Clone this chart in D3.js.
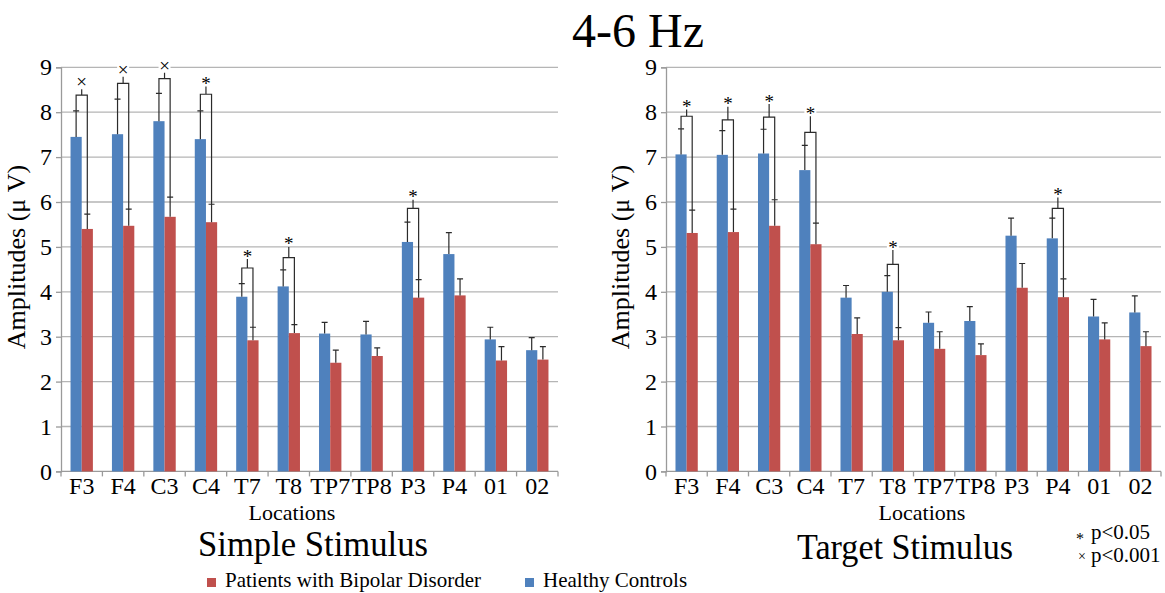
<!DOCTYPE html>
<html>
<head>
<meta charset="utf-8">
<script src="https://cdn.jsdelivr.net/npm/d3@7"></script>
<style>
  body { margin: 0; background: #fff; }
  svg { display: block; }
  text { font-family: "Liberation Serif", "Times New Roman", serif; fill: #000; }
</style>
</head>
<body>
<svg id="chart" width="1165" height="593"></svg>
<script>
// Electrode locations along the x axis
const locations = ["F3", "F4", "C3", "C4", "T7", "T8", "TP7", "TP8", "P3", "P4", "01", "02"];
const yTicks = [0, 1, 2, 3, 4, 5, 6, 7, 8, 9];

// Simple stimulus: mean amplitudes (µV) and standard deviations
const simpleControls   = [7.45, 7.51, 7.80, 7.40, 3.89, 4.12, 3.07, 3.05, 5.11, 4.84, 2.94, 2.70];
const simpleControlsSD = [0.58, 0.78, 0.62, 0.63, 0.29, 0.37, 0.25, 0.29, 0.44, 0.48, 0.27, 0.28];
const simplePatients   = [5.40, 5.47, 5.67, 5.55, 2.92, 3.08, 2.42, 2.57, 3.87, 3.92, 2.47, 2.49];
const simplePatientsSD = [0.33, 0.37, 0.44, 0.40, 0.29, 0.19, 0.28, 0.18, 0.40, 0.37, 0.31, 0.29];

// Target stimulus: mean amplitudes (µV) and standard deviations
const targetControls   = [7.06, 7.05, 7.08, 6.71, 3.87, 4.00, 3.31, 3.35, 5.25, 5.19, 3.45, 3.54];
const targetControlsSD = [0.57, 0.54, 0.54, 0.55, 0.27, 0.36, 0.24, 0.32, 0.39, 0.45, 0.38, 0.37];
const targetPatients   = [5.31, 5.33, 5.47, 5.06, 3.06, 2.92, 2.73, 2.59, 4.09, 3.88, 2.94, 2.79];
const targetPatientsSD = [0.51, 0.51, 0.58, 0.47, 0.36, 0.28, 0.38, 0.25, 0.54, 0.41, 0.37, 0.32];

// Significance brackets: [location, bracket level, stem tip level, marker]
const simpleSig = [
  ["F3", 8.38, 8.51, "×"], ["F4", 8.64, 8.79, "×"], ["C3", 8.75, 8.88, "×"],
  ["C4", 8.40, 8.57, "*"], ["T7", 4.53, 4.73, "*"], ["T8", 4.76, 5.00, "*"],
  ["P3", 5.86, 6.05, "*"]
];
const targetSig = [
  ["F3", 7.91, 8.06, "*"], ["F4", 7.83, 8.12, "*"], ["C3", 7.89, 8.18, "*"],
  ["C4", 7.55, 7.91, "*"], ["T8", 4.61, 4.93, "*"], ["P4", 5.86, 6.10, "*"]
];

const seriesNames = ["Patients with Bipolar Disorder", "Healthy Controls"];
const colControls = "#4F81BD";
const colPatients = "#C0504D";

const svg = d3.select("#chart");

// Main heading
svg.append("text")
  .attr("x", 638).attr("y", 47)
  .attr("text-anchor", "middle")
  .style("font-size", "48px")
  .text("4-6 Hz");

const y = d3.scaleLinear().domain([0, 9]).range([471.4, 67.3]);

function drawPanel(p) {
  const g = svg.append("g");
  const x = d3.scaleBand().domain(locations).range([p.left, p.right]).padding(0);
  const bw = x.bandwidth() * 0.27;
  const cx = d => x(d) + x.bandwidth() / 2;

  // horizontal gridlines
  g.append("g").selectAll("line")
    .data(yTicks.filter(t => t > 0))
    .join("line")
    .attr("x1", p.left).attr("x2", p.right)
    .attr("y1", d => y(d)).attr("y2", d => y(d))
    .attr("stroke", "#b5b5b5").attr("stroke-width", 1.3);

  // y axis
  const ya = g.append("g")
    .attr("transform", `translate(${p.left},0)`)
    .call(d3.axisLeft(y).tickValues(yTicks).tickSize(5).tickPadding(4).tickFormat(d3.format("d")));
  ya.attr("font-family", null);
  ya.select(".domain").attr("stroke", "#9a9a9a").attr("stroke-width", 1.3);
  ya.selectAll(".tick line").attr("stroke", "#9a9a9a").attr("stroke-width", 1.3);
  ya.selectAll(".tick text")
    .style("font-family", '"Liberation Serif", serif').style("font-size", "24px").attr("fill", "#000");

  // x axis with tick marks at band boundaries
  const xa = g.append("g")
    .attr("transform", `translate(0,${y(0)})`)
    .call(d3.axisBottom(x).tickSize(0).tickPadding(6));
  xa.attr("font-family", null);
  xa.select(".domain").remove();
  xa.selectAll(".tick text")
    .style("font-family", '"Liberation Serif", serif').style("font-size", "24px").attr("fill", "#000");
  g.append("line")
    .attr("x1", p.left).attr("x2", p.right).attr("y1", y(0)).attr("y2", y(0))
    .attr("stroke", "#9a9a9a").attr("stroke-width", 1.3);
  g.append("g").selectAll("line")
    .data(d3.range(locations.length + 1))
    .join("line")
    .attr("x1", i => p.left + i * x.step()).attr("x2", i => p.left + i * x.step())
    .attr("y1", y(0)).attr("y2", y(0) + 5)
    .attr("stroke", "#9a9a9a").attr("stroke-width", 1.3);

  // bars: healthy controls (left), patients (right)
  const rows = locations.map((loc, i) => ({
    loc, c: p.controls[i], cs: p.controlsSD[i], p: p.patients[i], ps: p.patientsSD[i]
  }));
  g.append("g").selectAll("rect")
    .data(rows).join("rect")
    .attr("x", d => cx(d.loc) - bw).attr("width", bw)
    .attr("y", d => y(d.c)).attr("height", d => y(0) - y(d.c))
    .attr("fill", colControls);
  g.append("g").selectAll("rect")
    .data(rows).join("rect")
    .attr("x", d => cx(d.loc)).attr("width", bw)
    .attr("y", d => y(d.p)).attr("height", d => y(0) - y(d.p))
    .attr("fill", colPatients);

  // error bars
  const err = [];
  rows.forEach(d => {
    err.push({ x: cx(d.loc) - bw / 2, v: d.c, s: d.cs });
    err.push({ x: cx(d.loc) + bw / 2, v: d.p, s: d.ps });
  });
  const eg = g.append("g").attr("stroke", "#2b2b2b").attr("stroke-width", 1.2).attr("fill", "none");
  eg.selectAll("path").data(err).join("path")
    .attr("d", e => `M${e.x},${y(e.v)}V${y(e.v + e.s)}M${e.x - 3},${y(e.v + e.s)}H${e.x + 3}`);

  // significance brackets
  const byLoc = new Map(rows.map(d => [d.loc, d]));
  p.sig.forEach(([loc, level, tip, mark]) => {
    const d = byLoc.get(loc);
    const bx = cx(loc) - bw / 2, rx = cx(loc) + bw / 2, mx = cx(loc);
    eg.append("path")
      .attr("d", `M${bx},${y(d.c + d.cs)}V${y(level)}H${rx}V${y(d.p + d.ps)}M${mx},${y(level)}V${y(tip)}`);
    const sy = y(tip) - 6;
    g.append("rect")
      .attr("x", mx - 6).attr("y", sy - 5).attr("width", 12).attr("height", 10)
      .attr("fill", "#fff");
    if (mark === "*") {
      g.append("text").attr("x", mx).attr("y", sy + 9.5)
        .attr("text-anchor", "middle").style("font-size", "19px").text("*");
    } else {
      g.append("text").attr("x", mx).attr("y", sy + 5)
        .attr("text-anchor", "middle").style("font-size", "19px").text("×");
    }
  });

  // axis titles
  g.append("text")
    .attr("transform", `translate(${p.yTitleX},257) rotate(-90)`)
    .attr("text-anchor", "middle")
    .style("font-size", "26px")
    .text("Amplitudes (μ V)");
  g.append("text")
    .attr("x", p.xTitleX).attr("y", 520)
    .attr("text-anchor", "middle")
    .style("font-size", "22px")
    .text("Locations");
  g.append("text")
    .attr("x", p.nameX - p.nameW / 2).attr("y", p.nameY)
    .attr("textLength", p.nameW).attr("lengthAdjust", "spacingAndGlyphs")
    .style("font-size", "35px")
    .text(p.name);
}

drawPanel({
  left: 61, right: 558, controls: simpleControls, controlsSD: simpleControlsSD,
  patients: simplePatients, patientsSD: simplePatientsSD, sig: simpleSig,
  yTitleX: 25, xTitleX: 292, name: "Simple Stimulus", nameX: 313, nameW: 230, nameY: 556
});
drawPanel({
  left: 666, right: 1161, controls: targetControls, controlsSD: targetControlsSD,
  patients: targetPatients, patientsSD: targetPatientsSD, sig: targetSig,
  yTitleX: 629, xTitleX: 922, name: "Target Stimulus", nameX: 905, nameW: 216, nameY: 559
});

// series legend
const legend = svg.append("g");
[[207, colPatients, seriesNames[0]], [525, colControls, seriesNames[1]]].forEach(([lx, col, name]) => {
  legend.append("rect").attr("x", lx).attr("y", 578).attr("width", 9).attr("height", 9).attr("fill", col);
  legend.append("text").attr("x", lx + 18).attr("y", 587).style("font-size", "21px").text(name);
});

// significance key
const key = svg.append("g");
key.append("text").attr("x", 1080).attr("y", 544).attr("text-anchor", "middle").style("font-size", "16px").text("*");
key.append("text").attr("x", 1091).attr("y", 539).style("font-size", "21px").text("p<0.05");
key.append("text").attr("x", 1082).attr("y", 561).attr("text-anchor", "middle").style("font-size", "14px").text("×");
key.append("text").attr("x", 1091).attr("y", 562).style("font-size", "21px").text("p<0.001");
</script>
</body>
</html>
